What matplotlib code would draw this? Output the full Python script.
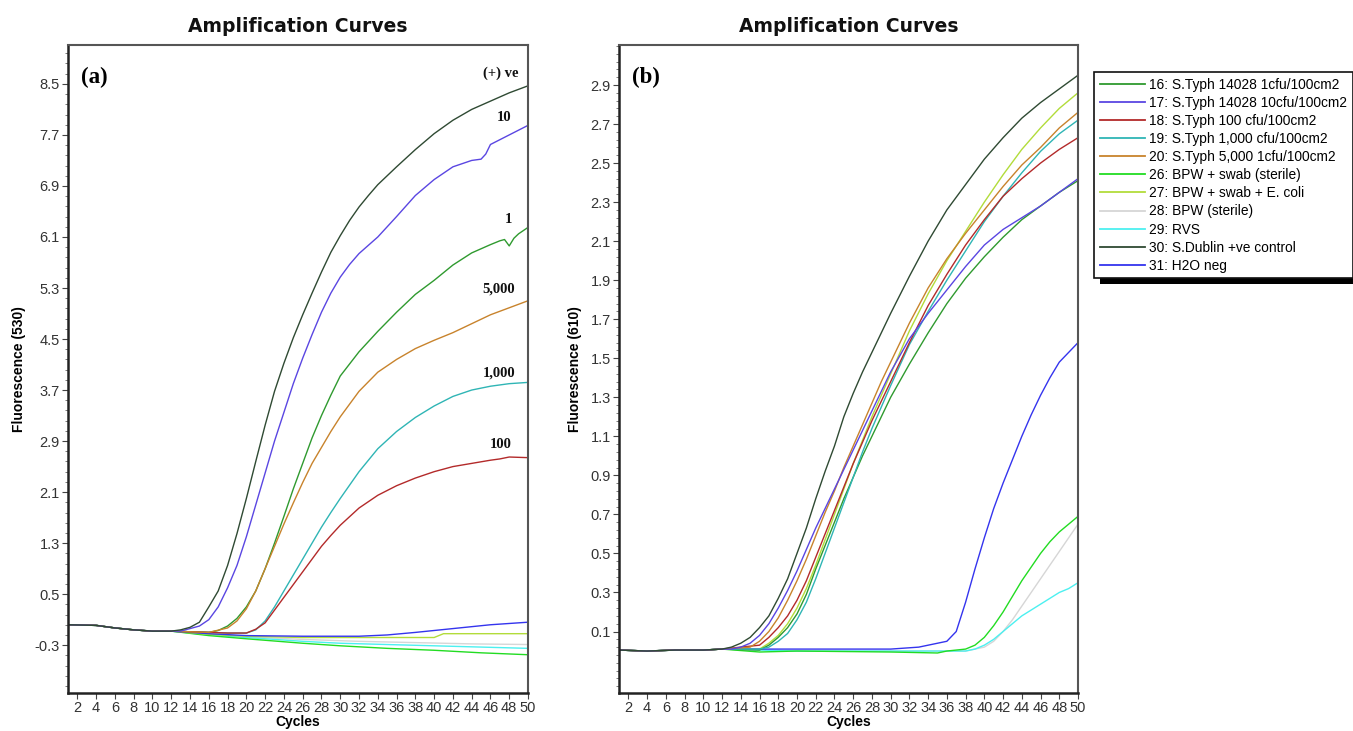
import matplotlib
matplotlib.use("Agg")
import matplotlib.pyplot as plt
from matplotlib.ticker import AutoMinorLocator
from matplotlib.patches import Rectangle

# ---------------- Panel (a) data : Fluorescence (530) ----------------
a_base_c = [1, 4, 6, 8, 10, 12]
a_base_v = [0.02, 0.01, -0.03, -0.06, -0.08, -0.08]

a30_c = a_base_c + [13, 14, 15, 16, 17, 18, 19, 20, 21, 22, 23, 24, 25, 26, 27, 28, 29, 30, 31, 32, 33, 34, 36, 38, 40, 42, 44, 46, 48, 50]
a30_v = a_base_v + [-0.06, -0.02, 0.06, 0.3, 0.55, 0.95, 1.45, 2.0, 2.58, 3.15, 3.68, 4.12, 4.52, 4.88, 5.22, 5.55, 5.86, 6.12, 6.36, 6.57, 6.75, 6.92, 7.2, 7.47, 7.72, 7.93, 8.1, 8.23, 8.36, 8.47]

a17_c = a_base_c + [13, 15, 16, 17, 18, 19, 20, 21, 22, 23, 24, 25, 26, 27, 28, 29, 30, 31, 32, 34, 36, 38, 40, 42, 44, 45, 45.5, 46, 48, 50]
a17_v = a_base_v + [-0.08, 0.0, 0.1, 0.3, 0.6, 0.95, 1.4, 1.9, 2.4, 2.9, 3.35, 3.8, 4.2, 4.57, 4.92, 5.22, 5.47, 5.67, 5.84, 6.1, 6.42, 6.75, 7.0, 7.2, 7.3, 7.32, 7.4, 7.55, 7.7, 7.85]

a16_c = a_base_c + [14, 16, 17, 18, 19, 20, 21, 22, 23, 24, 25, 26, 27, 28, 29, 30, 32, 34, 36, 38, 40, 42, 44, 46, 47, 47.5, 48, 48.5, 49, 50]
a16_v = a_base_v + [-0.09, -0.1, -0.07, 0.0, 0.12, 0.3, 0.55, 0.9, 1.3, 1.72, 2.15, 2.55, 2.95, 3.3, 3.62, 3.92, 4.3, 4.62, 4.92, 5.2, 5.42, 5.66, 5.85, 5.98, 6.04, 6.06, 5.96, 6.08, 6.15, 6.25]

a20_c = a_base_c + [14, 16, 18, 19, 20, 21, 22, 23, 24, 25, 26, 27, 28, 29, 30, 32, 34, 36, 38, 40, 42, 44, 46, 48, 50]
a20_v = a_base_v + [-0.09, -0.1, -0.03, 0.08, 0.27, 0.55, 0.9, 1.25, 1.6, 1.93, 2.25, 2.55, 2.8, 3.05, 3.28, 3.68, 3.98, 4.18, 4.35, 4.48, 4.6, 4.74, 4.88, 4.99, 5.1]

a19_c = a_base_c + [14, 16, 18, 20, 21, 22, 23, 24, 25, 26, 27, 28, 29, 30, 32, 34, 36, 38, 40, 42, 44, 46, 48, 50]
a19_v = a_base_v + [-0.09, -0.1, -0.11, -0.11, -0.06, 0.08, 0.3, 0.55, 0.8, 1.05, 1.3, 1.55, 1.78, 2.0, 2.42, 2.78, 3.05, 3.27, 3.45, 3.6, 3.7, 3.76, 3.8, 3.82]

a18_c = a_base_c + [14, 16, 18, 20, 21, 22, 23, 24, 25, 26, 27, 28, 29, 30, 32, 34, 36, 38, 40, 42, 44, 46, 47, 48, 50]
a18_v = a_base_v + [-0.09, -0.1, -0.11, -0.11, -0.05, 0.05, 0.25, 0.45, 0.65, 0.85, 1.05, 1.25, 1.42, 1.58, 1.85, 2.05, 2.2, 2.32, 2.42, 2.5, 2.55, 2.6, 2.62, 2.65, 2.64]

a31_c = a_base_c + [16, 20, 26, 32, 35, 38, 42, 46, 50]
a31_v = a_base_v + [-0.12, -0.15, -0.16, -0.16, -0.14, -0.1, -0.04, 0.02, 0.06]

a27_c = a_base_c + [16, 20, 26, 32, 40, 41, 46, 50]
a27_v = a_base_v + [-0.13, -0.16, -0.18, -0.18, -0.18, -0.12, -0.12, -0.12]

a28_c = a_base_c + [16, 20, 26, 32, 38, 44, 50]
a28_v = a_base_v + [-0.13, -0.17, -0.21, -0.24, -0.26, -0.28, -0.29]

a29_c = a_base_c + [16, 20, 26, 30, 35, 40, 45, 50]
a29_v = a_base_v + [-0.14, -0.18, -0.24, -0.27, -0.29, -0.31, -0.33, -0.35]

a26_c = a_base_c + [16, 20, 26, 30, 35, 40, 45, 50]
a26_v = a_base_v + [-0.15, -0.2, -0.27, -0.31, -0.35, -0.38, -0.42, -0.45]

a_label_text = ["(+) ve", "10", "1", "5,000", "1,000", "100"]
a_label_c = [47.1, 47.5, 47.9, 46.9, 46.9, 47.1]
a_label_v = [8.67, 7.98, 6.38, 5.29, 3.96, 2.84]

# ---------------- Panel (b) data : Fluorescence (610) ----------------
b_base_c = [1, 4, 7, 10, 12]
b_base_v = [0.005, 0.0, 0.005, 0.005, 0.01]

b30_c = b_base_c + [13, 14, 15, 16, 17, 18, 19, 20, 21, 22, 23, 24, 25, 26, 27, 28, 29, 30, 32, 34, 36, 38, 40, 42, 44, 46, 48, 50]
b30_v = b_base_v + [0.02, 0.04, 0.07, 0.12, 0.18, 0.27, 0.37, 0.5, 0.63, 0.78, 0.92, 1.05, 1.2, 1.32, 1.43, 1.53, 1.63, 1.73, 1.92, 2.1, 2.26, 2.39, 2.52, 2.63, 2.73, 2.81, 2.88, 2.95]

b27_c = b_base_c + [16, 17, 18, 19, 20, 21, 22, 23, 24, 25, 26, 27, 28, 29, 30, 32, 34, 36, 38, 40, 42, 44, 46, 48, 50]
b27_v = b_base_v + [0.01, 0.04, 0.08, 0.14, 0.22, 0.32, 0.44, 0.57, 0.7, 0.83, 0.96, 1.08, 1.2, 1.31, 1.42, 1.64, 1.83, 2.0, 2.15, 2.3, 2.44, 2.57, 2.68, 2.78, 2.86]

b20_c = b_base_c + [15, 16, 17, 18, 19, 20, 21, 22, 23, 24, 25, 26, 27, 28, 29, 30, 32, 34, 36, 38, 40, 42, 44, 46, 48, 50]
b20_v = b_base_v + [0.02, 0.05, 0.1, 0.17, 0.26, 0.36, 0.47, 0.59, 0.71, 0.82, 0.94, 1.05, 1.16, 1.27, 1.38, 1.48, 1.68, 1.86, 2.01, 2.14, 2.26, 2.38, 2.49, 2.58, 2.68, 2.76]

b19_c = b_base_c + [16, 17, 18, 19, 20, 21, 22, 23, 24, 25, 26, 27, 28, 29, 30, 32, 34, 36, 38, 40, 42, 44, 46, 48, 50]
b19_v = b_base_v + [0.01, 0.02, 0.05, 0.09, 0.16, 0.25, 0.37, 0.5, 0.63, 0.76, 0.89, 1.02, 1.14, 1.25, 1.36, 1.57, 1.74, 1.9, 2.05, 2.2, 2.33, 2.45, 2.56, 2.65, 2.72]

b18_c = b_base_c + [16, 17, 18, 19, 20, 21, 22, 23, 24, 25, 26, 27, 28, 29, 30, 32, 34, 36, 38, 40, 42, 44, 46, 48, 50]
b18_v = b_base_v + [0.03, 0.07, 0.12, 0.18, 0.26, 0.36, 0.48, 0.6, 0.72, 0.84, 0.96, 1.07, 1.18, 1.28, 1.38, 1.58, 1.77, 1.93, 2.08, 2.21, 2.33, 2.42, 2.5, 2.57, 2.63]

b17_c = b_base_c + [13, 14, 15, 16, 17, 18, 19, 20, 21, 22, 23, 24, 25, 26, 27, 28, 29, 30, 32, 34, 36, 38, 40, 42, 44, 46, 48, 50]
b17_v = b_base_v + [0.01, 0.02, 0.04, 0.08, 0.14, 0.22, 0.31, 0.41, 0.52, 0.63, 0.73, 0.83, 0.93, 1.03, 1.13, 1.23, 1.33, 1.43, 1.6, 1.73, 1.85, 1.97, 2.08, 2.16, 2.22, 2.28, 2.35, 2.42]

b16_c = b_base_c + [16, 17, 18, 19, 20, 21, 22, 23, 24, 25, 26, 27, 28, 29, 30, 32, 34, 36, 38, 40, 42, 44, 46, 48, 50]
b16_v = b_base_v + [0.005, 0.03, 0.07, 0.12, 0.19, 0.29, 0.42, 0.54, 0.66, 0.78, 0.89, 1.0, 1.1, 1.2, 1.3, 1.47, 1.63, 1.78, 1.91, 2.02, 2.12, 2.21, 2.28, 2.35, 2.41]

b31_c = b_base_c + [20, 30, 33, 35, 36, 37, 38, 39, 40, 41, 42, 43, 44, 45, 46, 47, 48, 49, 50]
b31_v = b_base_v + [0.01, 0.01, 0.02, 0.04, 0.05, 0.1, 0.25, 0.42, 0.58, 0.73, 0.86, 0.98, 1.1, 1.21, 1.31, 1.4, 1.48, 1.53, 1.58]

b26_c = b_base_c + [16, 20, 30, 35, 36, 38, 39, 40, 41, 42, 43, 44, 45, 46, 47, 48, 49, 50]
b26_v = b_base_v + [-0.005, 0.0, -0.005, -0.01, 0.0, 0.01, 0.03, 0.07, 0.13, 0.2, 0.28, 0.36, 0.43, 0.5, 0.56, 0.61, 0.65, 0.69]

b28_c = b_base_c + [20, 30, 38, 40, 41, 42, 43, 44, 45, 46, 47, 48, 49, 50]
b28_v = b_base_v + [0.0, 0.0, 0.0, 0.02, 0.05, 0.1, 0.16, 0.23, 0.3, 0.37, 0.44, 0.51, 0.58, 0.65]

b29_c = b_base_c + [20, 30, 38, 39, 40, 41, 42, 43, 44, 45, 46, 47, 48, 49, 50]
b29_v = b_base_v + [0.0, 0.0, 0.0, 0.01, 0.03, 0.06, 0.1, 0.14, 0.18, 0.21, 0.24, 0.27, 0.3, 0.32, 0.35]

# ---------------- legend / series names and colours ----------------
series_ids = [16, 17, 18, 19, 20, 26, 27, 28, 29, 30, 31]
series_names = [
    "16: S.Typh 14028 1cfu/100cm2",
    "17: S.Typh 14028 10cfu/100cm2",
    "18: S.Typh 100 cfu/100cm2",
    "19: S.Typh 1,000 cfu/100cm2",
    "20: S.Typh 5,000 1cfu/100cm2",
    "26: BPW + swab (sterile)",
    "27: BPW + swab + E. coli",
    "28: BPW (sterile)",
    "29: RVS",
    "30: S.Dublin +ve control",
    "31: H2O neg",
]
series_colors = ["#2f9a2f", "#5a46e2", "#b32a2a", "#2fb5b5", "#c8832c",
                 "#22dc22", "#b2dc3a", "#d6d6d6", "#4cf0f0", "#2f4a33", "#3434ee"]

a_data = {16: (a16_c, a16_v), 17: (a17_c, a17_v), 18: (a18_c, a18_v), 19: (a19_c, a19_v),
          20: (a20_c, a20_v), 26: (a26_c, a26_v), 27: (a27_c, a27_v), 28: (a28_c, a28_v),
          29: (a29_c, a29_v), 30: (a30_c, a30_v), 31: (a31_c, a31_v)}
b_data = {16: (b16_c, b16_v), 17: (b17_c, b17_v), 18: (b18_c, b18_v), 19: (b19_c, b19_v),
          20: (b20_c, b20_v), 26: (b26_c, b26_v), 27: (b27_c, b27_v), 28: (b28_c, b28_v),
          29: (b29_c, b29_v), 30: (b30_c, b30_v), 31: (b31_c, b31_v)}

a_yticks = [-0.3, 0.5, 1.3, 2.1, 2.9, 3.7, 4.5, 5.3, 6.1, 6.9, 7.7, 8.5]
b_yticks = [0.1, 0.3, 0.5, 0.7, 0.9, 1.1, 1.3, 1.5, 1.7, 1.9, 2.1, 2.3, 2.5, 2.7, 2.9]
x_ticks = list(range(2, 51, 2))

# ---------------- figure ----------------
W, H = 1353, 731
fig = plt.figure(figsize=(W / 100, H / 100), dpi=100)
fig.patch.set_facecolor("white")

def px_rect(l, t, r, b):
    return [l / W, 1 - b / H, (r - l) / W, (b - t) / H]

ax_a = fig.add_axes(px_rect(68, 45, 528, 693))
ax_b = fig.add_axes(px_rect(619, 45, 1078, 693))

def style_axes(ax, yticks, ylim, ylabel, panel):
    ax.set_xlim(1, 50)
    ax.set_ylim(*ylim)
    ax.set_xticks(x_ticks)
    ax.set_xticklabels([str(t) for t in x_ticks], fontfamily="Liberation Sans", fontsize=10.5)
    ax.set_yticks(yticks)
    ax.set_yticklabels([f"{t:.1f}" for t in yticks], fontfamily="Liberation Sans", fontsize=10.5)
    ax.yaxis.set_minor_locator(AutoMinorLocator(5))
    ax.tick_params(axis="both", which="major", direction="out", length=4, width=0.8, color="#444444", pad=2)
    ax.tick_params(axis="y", which="minor", direction="out", length=2.5, width=0.6, color="#666666")
    ax.tick_params(axis="both", labelcolor="#333333")
    for side in ["left", "bottom"]:
        ax.spines[side].set_linewidth(1.8)
        ax.spines[side].set_color("#222222")
    for side in ["top", "right"]:
        ax.spines[side].set_linewidth(1.5)
        ax.spines[side].set_color("#555555")
    ax.set_title("Amplification Curves", fontfamily="DejaVu Sans", fontweight="heavy",
                 fontsize=13.5, pad=9, color="#111111")
    ax.set_xlabel("Cycles", fontfamily="Liberation Sans", fontweight="bold", fontsize=10, labelpad=0)
    ax.set_ylabel(ylabel, fontfamily="Liberation Sans", fontweight="bold", fontsize=10, labelpad=6)
    ax.text(0.028, 0.966, panel, transform=ax.transAxes, fontfamily="Liberation Serif",
            fontweight="bold", fontsize=16.5, va="top", ha="left")

style_axes(ax_a, a_yticks, (-1.05, 9.11), "Fluorescence (530)", "(a)")
style_axes(ax_b, b_yticks, (-0.215, 3.105), "Fluorescence (610)", "(b)")

draw_order = [28, 29, 26, 27, 31, 16, 19, 18, 20, 17, 30]
lines = {}
for sid in draw_order:
    i = series_ids.index(sid)
    c, v = a_data[sid]
    ax_a.plot(c, v, color=series_colors[i], lw=1.0)
    c, v = b_data[sid]
    ln, = ax_b.plot(c, v, color=series_colors[i], lw=1.0)
    lines[sid] = ln

for t, c, v in zip(a_label_text, a_label_c, a_label_v):
    ax_a.text(c, v, t, fontfamily="Liberation Serif", fontweight="bold", fontsize=10.5,
              ha="center", va="center", color="#111111")

leg = fig.legend([lines[s] for s in series_ids], series_names,
                 loc="upper left", bbox_to_anchor=(1094 / W, 1 - 72 / H),
                 bbox_transform=fig.transFigure, borderaxespad=0,
                 prop={"family": "Liberation Sans", "size": 9.9},
                 handlelength=3.3, handletextpad=0.3, labelspacing=0.3,
                 borderpad=0.4, frameon=True, fancybox=False, framealpha=1.0)
leg.get_frame().set_edgecolor("#111111")
leg.get_frame().set_linewidth(1.2)
leg.get_frame().set_facecolor("white")
leg.set_zorder(10)
for ln in leg.get_lines():
    ln.set_linewidth(1.3)

fig.canvas.draw()
bb = leg.get_window_extent()
shadow = Rectangle((bb.x0 + 6, bb.y0 - 6), bb.width, bb.height, transform=None,
                   facecolor="black", edgecolor="none", zorder=9)
fig.add_artist(shadow)

fig.savefig("out.png", dpi=100, facecolor="white")
